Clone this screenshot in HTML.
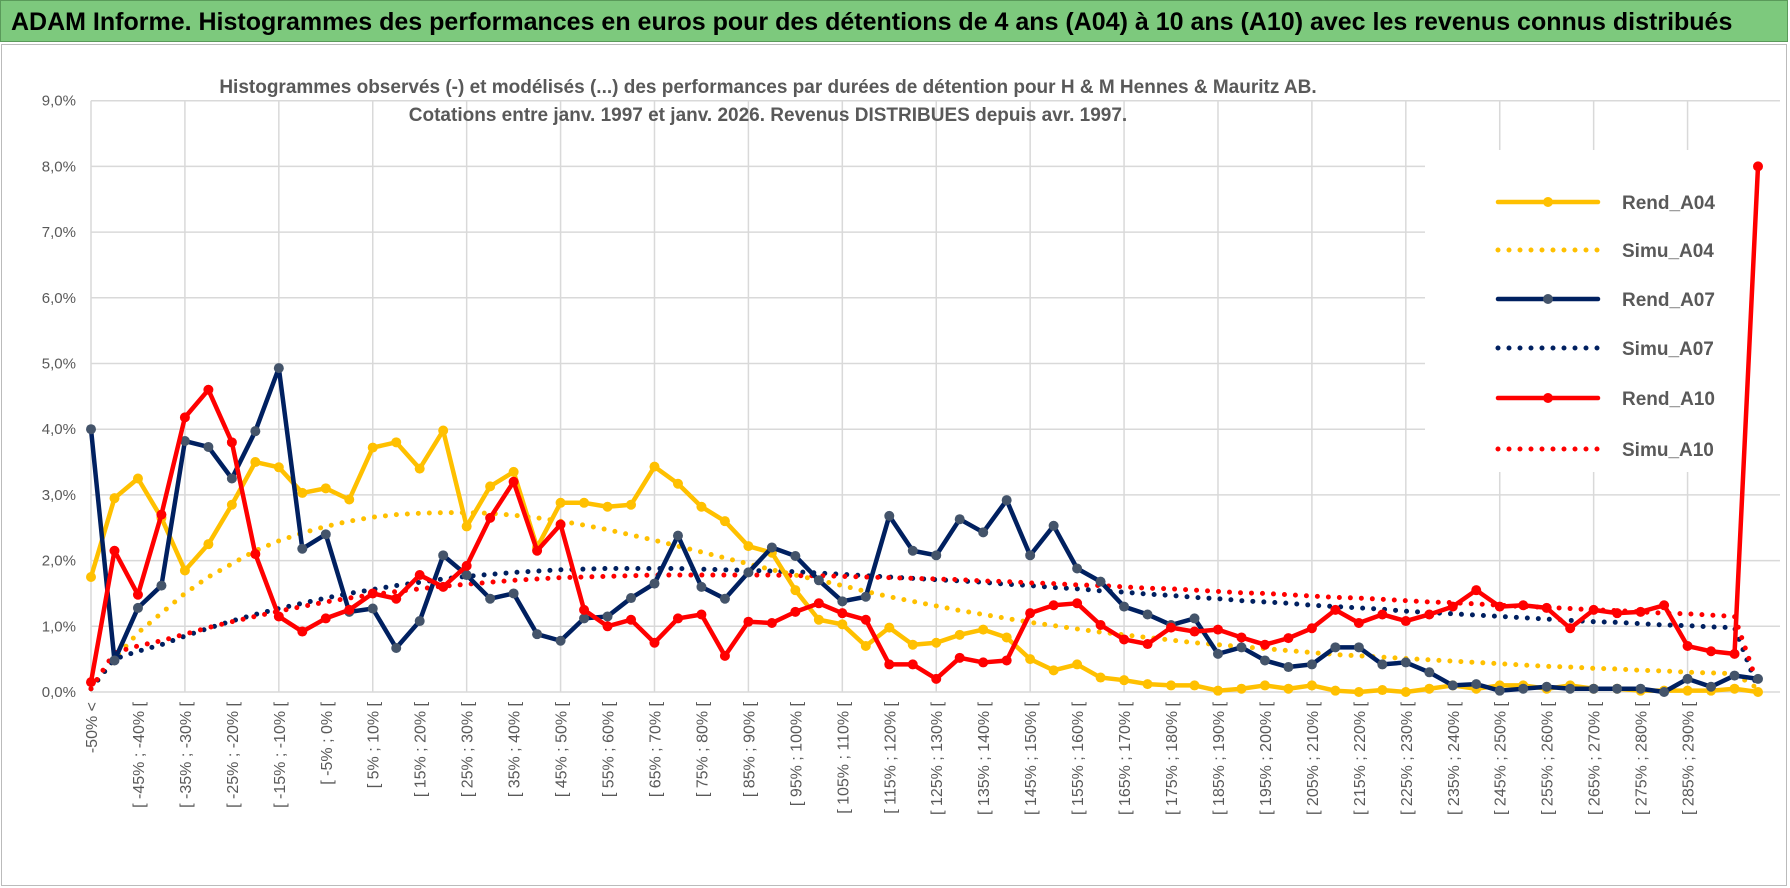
<!DOCTYPE html>
<html><head><meta charset="utf-8">
<style>
body{margin:0;width:1790px;height:888px;background:#fff;overflow:hidden;font-family:"Liberation Sans",sans-serif;}
#title{position:absolute;left:0;top:0;width:1788px;height:42px;background:#7dc97d;border:1px solid #5a9a5a;font-weight:bold;font-size:25px;color:#000;line-height:42px;padding-left:10px;box-sizing:border-box;white-space:nowrap;}
#frame{position:absolute;left:1px;top:44px;width:1786px;height:842px;border:1px solid #bbb;box-sizing:border-box;}
svg{position:absolute;left:0;top:0;}
</style></head><body>
<div id="title">ADAM Informe. Histogrammes des performances en euros pour des détentions de 4 ans (A04) à 10 ans (A10) avec les revenus connus distribués</div>
<div id="frame"></div>
<svg id="chart" width="1790" height="888"></svg>
<script>
const yTicks=[0,1,2,3,4,5,6,7,8,9];
const rendA04=[1.75,2.95,3.25,2.65,1.85,2.25,2.85,3.5,3.42,3.03,3.1,2.93,3.72,3.8,3.4,3.98,2.52,3.13,3.35,2.2,2.88,2.88,2.82,2.85,3.43,3.17,2.82,2.6,2.22,2.12,1.55,1.1,1.03,0.7,0.98,0.72,0.75,0.87,0.95,0.83,0.5,0.33,0.42,0.22,0.18,0.12,0.1,0.1,0.02,0.05,0.1,0.05,0.1,0.02,0.0,0.03,0.0,0.05,0.1,0.05,0.1,0.1,0.05,0.1,0.05,0.05,0.02,0.02,0.02,0.02,0.05,0.0];
const simuA04=[0.05,0.5,0.9,1.2,1.5,1.75,1.95,2.15,2.3,2.42,2.52,2.6,2.66,2.7,2.72,2.73,2.73,2.72,2.69,2.65,2.6,2.54,2.47,2.39,2.31,2.22,2.13,2.04,1.95,1.86,1.78,1.7,1.62,1.53,1.45,1.38,1.31,1.24,1.18,1.12,1.06,1.01,0.96,0.91,0.87,0.83,0.79,0.75,0.72,0.69,0.66,0.63,0.6,0.57,0.55,0.53,0.51,0.49,0.47,0.45,0.43,0.41,0.39,0.38,0.36,0.35,0.33,0.32,0.3,0.29,0.28,0.05];
const rendA07=[4.0,0.48,1.28,1.62,3.82,3.73,3.25,3.97,4.93,2.18,2.4,1.22,1.27,0.67,1.08,2.08,1.78,1.42,1.5,0.88,0.78,1.12,1.15,1.43,1.65,2.38,1.6,1.42,1.82,2.2,2.07,1.7,1.38,1.45,2.68,2.15,2.08,2.63,2.43,2.92,2.08,2.53,1.88,1.68,1.3,1.18,1.02,1.12,0.58,0.68,0.48,0.38,0.42,0.68,0.68,0.42,0.45,0.3,0.1,0.12,0.02,0.05,0.08,0.05,0.05,0.05,0.05,0.0,0.2,0.08,0.25,0.2];
const simuA07=[0.05,0.5,0.62,0.72,0.85,0.97,1.08,1.18,1.27,1.35,1.43,1.5,1.56,1.62,1.67,1.72,1.76,1.79,1.82,1.84,1.86,1.87,1.88,1.88,1.88,1.88,1.87,1.86,1.85,1.84,1.83,1.81,1.79,1.77,1.75,1.73,1.71,1.69,1.67,1.64,1.62,1.59,1.57,1.54,1.52,1.49,1.47,1.44,1.42,1.39,1.37,1.35,1.32,1.3,1.28,1.26,1.23,1.21,1.19,1.17,1.15,1.13,1.11,1.09,1.07,1.06,1.04,1.02,1.01,0.99,0.98,0.05];
const rendA10=[0.15,2.15,1.48,2.7,4.18,4.6,3.8,2.1,1.15,0.92,1.12,1.25,1.5,1.42,1.78,1.6,1.92,2.65,3.2,2.15,2.55,1.25,1.0,1.1,0.75,1.12,1.18,0.55,1.07,1.05,1.22,1.35,1.2,1.1,0.42,0.42,0.2,0.52,0.45,0.48,1.2,1.32,1.35,1.02,0.8,0.73,0.98,0.92,0.95,0.83,0.72,0.82,0.97,1.25,1.05,1.18,1.08,1.18,1.3,1.55,1.3,1.32,1.28,0.97,1.25,1.2,1.22,1.32,0.7,0.62,0.58,8.0];
const simuA10=[0.05,0.6,0.7,0.78,0.88,0.98,1.07,1.15,1.23,1.3,1.37,1.43,1.48,1.53,1.57,1.61,1.64,1.67,1.7,1.72,1.74,1.75,1.76,1.77,1.78,1.78,1.78,1.78,1.78,1.78,1.77,1.77,1.76,1.75,1.74,1.73,1.72,1.71,1.69,1.68,1.66,1.65,1.63,1.62,1.6,1.58,1.57,1.55,1.53,1.51,1.5,1.48,1.46,1.44,1.43,1.41,1.39,1.37,1.36,1.34,1.32,1.3,1.29,1.27,1.25,1.24,1.22,1.2,1.19,1.17,1.15,0.1];
const categories=["-50% <"];
for(let i=1;i<72;i++){categories.push("[ "+(-55+5*i)+"% ; "+(-50+5*i)+"% [");}

const NS="http://www.w3.org/2000/svg";
const svg=document.getElementById('chart');
const X0=91,X1=1758,Y0=692,YPER=65.7;
const xs=i=>X0+i*(X1-X0)/(categories.length-1);
const ys=v=>Y0-v*YPER;
function mk(tag,attrs,parent){const e=document.createElementNS(NS,tag);for(const k in attrs)e.setAttribute(k,attrs[k]);(parent||svg).appendChild(e);return e;}

// gridlines
yTicks.forEach(t=>{
  const l=mk('line',{x1:X0,x2:X1+22,y1:ys(t),y2:ys(t),stroke:'#d9d9d9','stroke-width':1.5});
  
  
  const tx=mk('text',{x:76,y:ys(t)+5,'text-anchor':'end','font-size':15,fill:'#595959'});
  tx.textContent=t.toFixed(1).replace('.',',')+'%';
  
  
});
for(let i=0;i<categories.length;i+=4){
  const l=mk('line',{x1:xs(i),x2:xs(i),y1:ys(9),y2:Y0,stroke:'#d9d9d9','stroke-width':1.5});
  
  
}
for(let i=0;i<=68;i+=2){
  const tx=mk('text',{transform:`translate(${xs(i)+6},702) rotate(-90)`,'text-anchor':'end','font-size':16,fill:'#595959'});
  tx.textContent=categories[i];
  
  
}
// subtitle
const st1=mk('text',{x:768,y:93,'text-anchor':'middle','font-size':19,'font-weight':'bold',fill:'#595959'});
st1.textContent="Histogrammes observés (-) et modélisés (...) des performances par durées de détention pour H & M Hennes & Mauritz AB.";


const st2=mk('text',{x:768,y:121,'text-anchor':'middle','font-size':19,'font-weight':'bold',fill:'#595959'});
st2.textContent="Cotations entre janv. 1997 et janv. 2026. Revenus DISTRIBUES depuis avr. 1997.";



// legend background
const lb=mk('rect',{x:1425,y:150,width:360,height:322,fill:'#fff'});



const series=[
 {name:'Rend_A04',data:rendA04,color:'#ffc000',dot:false,mk:'#ffc000'},
 {name:'Simu_A04',data:simuA04,color:'#ffc000',dot:true},
 {name:'Rend_A07',data:rendA07,color:'#002060',dot:false,mk:'#44546a'},
 {name:'Simu_A07',data:simuA07,color:'#002060',dot:true},
 {name:'Rend_A10',data:rendA10,color:'#ff0000',dot:false,mk:'#ff0000'},
 {name:'Simu_A10',data:simuA10,color:'#ff0000',dot:true}
];
const order=[1,3,5,0,2,4];
order.forEach(si=>{
  const s=series[si];
  const pts=s.data.map((v,i)=>xs(i)+','+ys(v)).join(' ');
  const attrs={points:pts,fill:'none',stroke:s.color,'stroke-width':s.dot?5:4.5,'stroke-linejoin':'round','stroke-linecap':'round'};
  if(s.dot)attrs['stroke-dasharray']='0 11';
  const pl=mk('polyline',attrs);
  
  
  if(!s.dot){
    s.data.forEach((v,i)=>{
      const c=mk('circle',{cx:xs(i),cy:ys(v),r:5,fill:s.mk});
      
      
    });
  }
});
// legend
const legY=[202,250,299,348,398,449];
series.forEach((s,k)=>{
  const y=legY[k];
  const g=mk('g',{});
  
  
  const a={x1:1498,x2:1598,y1:y,y2:y,stroke:s.color,'stroke-width':s.dot?5:4.5,'stroke-linecap':'round'};
  if(s.dot)a['stroke-dasharray']='0 11';
  mk('line',a,g);
  if(!s.dot)mk('circle',{cx:1548,cy:y,r:5,fill:s.mk},g);
  const t=mk('text',{x:1622,y:y+7,'font-size':19,'font-weight':'bold',fill:'#595959'},g);
  t.textContent=s.name;
});
</script>
</body></html>
